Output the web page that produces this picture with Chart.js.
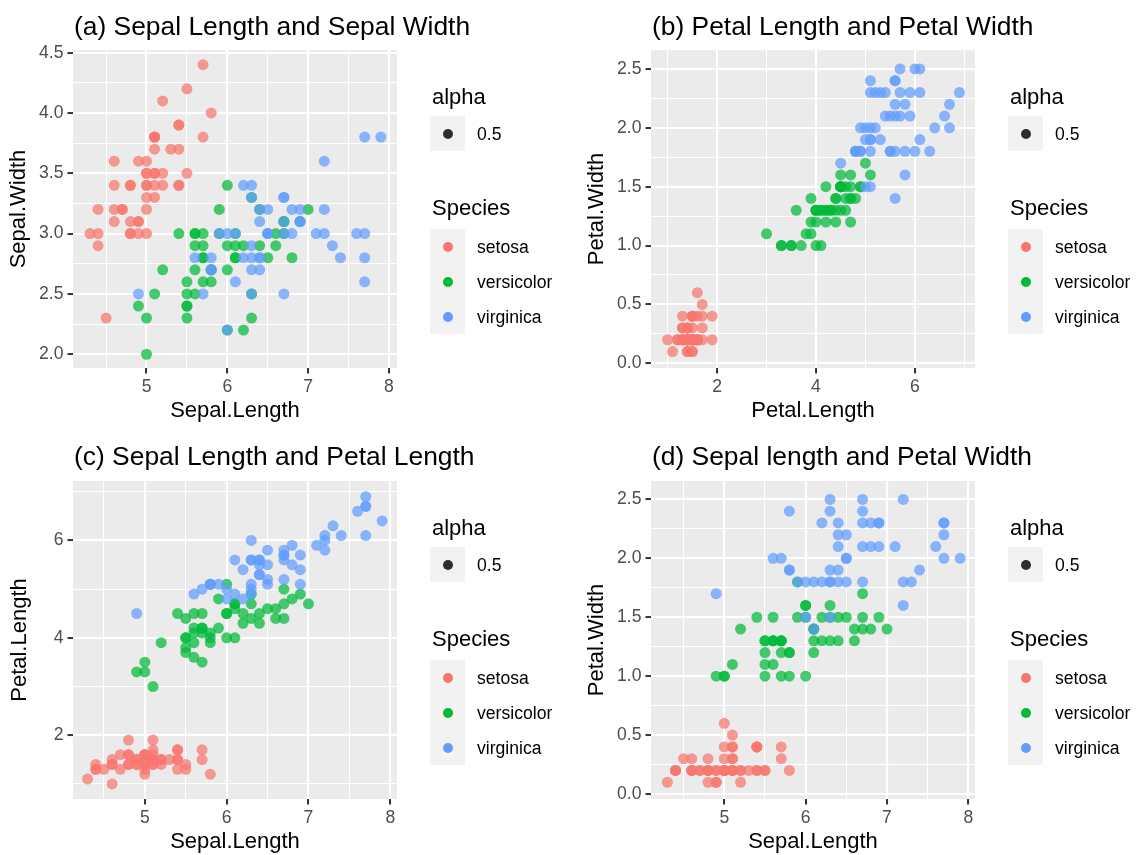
<!DOCTYPE html>
<html>
<head>
<meta charset="utf-8">
<title>Iris scatter plots</title>
<script src="https://cdn.jsdelivr.net/npm/chart.js@4.4.1/dist/chart.umd.min.js"></script>
<style>
    body { margin: 0; background: #ffffff; font-family: "Liberation Sans", Arial, sans-serif; }
    #wrap { position: relative; width: 1136px; height: 855px; overflow: hidden; }
    #wrap canvas { position: absolute; }
    .legend { position: absolute; width: 130px; height: 300px; }
    .legend div { position: absolute; white-space: nowrap; }
    .lg-title { font-size: 22px; line-height: 26px; color: #000; }
    .lg-label { font-size: 17.6px; line-height: 20px; color: #000; }
    .lg-box { background: #F2F2F2; width: 35px; }
    .lg-dot { width: 10px; height: 10px; border-radius: 50%; }
</style>
</head>
<body>
<div id="wrap"></div>
<script>
// iris data, one array per species and measurement
const setosaSepalLength = [5.1,4.9,4.7,4.6,5.0,5.4,4.6,5.0,4.4,4.9,5.4,4.8,4.8,4.3,5.8,5.7,5.4,5.1,5.7,5.1,5.4,5.1,4.6,5.1,4.8,5.0,5.0,5.2,5.2,4.7,4.8,5.4,5.2,5.5,4.9,5.0,5.5,4.9,4.4,5.1,5.0,4.5,4.4,5.0,5.1,4.8,5.1,4.6,5.3,5.0];
const setosaSepalWidth = [3.5,3.0,3.2,3.1,3.6,3.9,3.4,3.4,2.9,3.1,3.7,3.4,3.0,3.0,4.0,4.4,3.9,3.5,3.8,3.8,3.4,3.7,3.6,3.3,3.4,3.0,3.4,3.5,3.4,3.2,3.1,3.4,4.1,4.2,3.1,3.2,3.5,3.6,3.0,3.4,3.5,2.3,3.2,3.5,3.8,3.0,3.8,3.2,3.7,3.3];
const setosaPetalLength = [1.4,1.4,1.3,1.5,1.4,1.7,1.4,1.5,1.4,1.5,1.5,1.6,1.4,1.1,1.2,1.5,1.3,1.4,1.7,1.5,1.7,1.5,1.0,1.7,1.9,1.6,1.6,1.5,1.4,1.6,1.6,1.5,1.5,1.4,1.5,1.2,1.3,1.4,1.3,1.5,1.3,1.3,1.3,1.6,1.9,1.4,1.6,1.4,1.5,1.4];
const setosaPetalWidth = [0.2,0.2,0.2,0.2,0.2,0.4,0.3,0.2,0.2,0.1,0.2,0.2,0.1,0.1,0.2,0.4,0.4,0.3,0.3,0.3,0.2,0.4,0.2,0.5,0.2,0.2,0.4,0.2,0.2,0.2,0.2,0.4,0.1,0.2,0.2,0.2,0.2,0.1,0.2,0.2,0.3,0.3,0.2,0.6,0.4,0.3,0.2,0.2,0.2,0.2];

const versicolorSepalLength = [7.0,6.4,6.9,5.5,6.5,5.7,6.3,4.9,6.6,5.2,5.0,5.9,6.0,6.1,5.6,6.7,5.6,5.8,6.2,5.6,5.9,6.1,6.3,6.1,6.4,6.6,6.8,6.7,6.0,5.7,5.5,5.5,5.8,6.0,5.4,6.0,6.7,6.3,5.6,5.5,5.5,6.1,5.8,5.0,5.6,5.7,5.7,6.2,5.1,5.7];
const versicolorSepalWidth = [3.2,3.2,3.1,2.3,2.8,2.8,3.3,2.4,2.9,2.7,2.0,3.0,2.2,2.9,2.9,3.1,3.0,2.7,2.2,2.5,3.2,2.8,2.5,2.8,2.9,3.0,2.8,3.0,2.9,2.6,2.4,2.4,2.7,2.7,3.0,3.4,3.1,2.3,3.0,2.5,2.6,3.0,2.6,2.3,2.7,3.0,2.9,2.9,2.5,2.8];
const versicolorPetalLength = [4.7,4.5,4.9,4.0,4.6,4.5,4.7,3.3,4.6,3.9,3.5,4.2,4.0,4.7,3.6,4.4,4.5,4.1,4.5,3.9,4.8,4.0,4.9,4.7,4.3,4.4,4.8,5.0,4.5,3.5,3.8,3.7,3.9,5.1,4.5,4.5,4.7,4.4,4.1,4.0,4.4,4.6,4.0,3.3,4.2,4.2,4.2,4.3,3.0,4.1];
const versicolorPetalWidth = [1.4,1.5,1.5,1.3,1.5,1.3,1.6,1.0,1.3,1.4,1.0,1.5,1.0,1.4,1.3,1.4,1.5,1.0,1.5,1.1,1.8,1.3,1.5,1.2,1.3,1.4,1.4,1.7,1.5,1.0,1.1,1.0,1.2,1.6,1.5,1.6,1.5,1.3,1.3,1.3,1.2,1.4,1.2,1.0,1.3,1.2,1.3,1.3,1.1,1.3];

const virginicaSepalLength = [6.3,5.8,7.1,6.3,6.5,7.6,4.9,7.3,6.7,7.2,6.5,6.4,6.8,5.7,5.8,6.4,6.5,7.7,7.7,6.0,6.9,5.6,7.7,6.3,6.7,7.2,6.2,6.1,6.4,7.2,7.4,7.9,6.4,6.3,6.1,7.7,6.3,6.4,6.0,6.9,6.7,6.9,5.8,6.8,6.7,6.7,6.3,6.5,6.2,5.9];
const virginicaSepalWidth = [3.3,2.7,3.0,2.9,3.0,3.0,2.5,2.9,2.5,3.6,3.2,2.7,3.0,2.5,2.8,3.2,3.0,3.8,2.6,2.2,3.2,2.8,2.8,2.7,3.3,3.2,2.8,3.0,2.8,3.0,2.8,3.8,2.8,2.8,2.6,3.0,3.4,3.1,3.0,3.1,3.1,3.1,2.7,3.2,3.3,3.0,2.5,3.0,3.4,3.0];
const virginicaPetalLength = [6.0,5.1,5.9,5.6,5.8,6.6,4.5,6.3,5.8,6.1,5.1,5.3,5.5,5.0,5.1,5.3,5.5,6.7,6.9,5.0,5.7,4.9,6.7,4.9,5.7,6.0,4.8,4.9,5.6,5.8,6.1,6.4,5.6,5.1,5.6,6.1,5.6,5.5,4.8,5.4,5.6,5.1,5.1,5.9,5.7,5.2,5.0,5.2,5.4,5.1];
const virginicaPetalWidth = [2.5,1.9,2.1,1.8,2.2,2.1,1.7,1.8,1.8,2.5,2.0,1.9,2.1,2.0,2.4,2.3,1.8,2.2,2.3,1.5,2.3,2.0,2.0,1.8,2.1,1.8,1.8,1.8,2.1,1.6,1.9,2.0,2.2,1.5,1.4,2.3,2.4,1.8,1.8,2.1,2.4,2.3,1.9,2.3,2.5,2.3,1.9,2.0,2.3,1.8];

const species = ['setosa', 'versicolor', 'virginica'];
const speciesColors = ['#F8766D', '#00BA38', '#619CFF'];
const alphaLabel = '0.5';

// tick labels for each measurement
const sepalLengthTicks = [5, 6, 7, 8];
const sepalWidthTicks = [2.0, 2.5, 3.0, 3.5, 4.0, 4.5];
const petalLengthTicks = [2, 4, 6];
const petalWidthTicks = [0.0, 0.5, 1.0, 1.5, 2.0, 2.5];

const columns = {
    'Sepal.Length': [setosaSepalLength, versicolorSepalLength, virginicaSepalLength],
    'Sepal.Width': [setosaSepalWidth, versicolorSepalWidth, virginicaSepalWidth],
    'Petal.Length': [setosaPetalLength, versicolorPetalLength, virginicaPetalLength],
    'Petal.Width': [setosaPetalWidth, versicolorPetalWidth, virginicaPetalWidth]
};

const FONT = '"Liberation Sans", Arial, sans-serif';

// the four panels
const panels = [
    { title: '(a) Sepal Length and Sepal Width', x: 'Sepal.Length', y: 'Sepal.Width',
      xTicks: sepalLengthTicks, yTicks: sepalWidthTicks, xDec: 0, yDec: 1,
      xRange: [4.09, 8.10], yRange: [1.886, 4.522],
      left: 0, top: 0, plotLeft: 73, plotRight: 397, yAxisWidth: 67, titleY: 35 },
    { title: '(b) Petal Length and Petal Width', x: 'Petal.Length', y: 'Petal.Width',
      xTicks: petalLengthTicks, yTicks: petalWidthTicks, xDec: 0, yDec: 1,
      xRange: [0.664, 7.215], yRange: [-0.04, 2.661],
      left: 568, top: 0, plotLeft: 83, plotRight: 407, yAxisWidth: 67, titleY: 35 },
    { title: '(c) Sepal Length and Petal Length', x: 'Sepal.Length', y: 'Petal.Length',
      xTicks: sepalLengthTicks, yTicks: petalLengthTicks, xDec: 0, yDec: 0,
      xRange: [4.122, 8.082], yRange: [0.691, 7.221],
      left: 0, top: 431, plotLeft: 73, plotRight: 397, yAxisWidth: 66, titleY: 34 },
    { title: '(d) Sepal length and Petal Width', x: 'Sepal.Length', y: 'Petal.Width',
      xTicks: sepalLengthTicks, yTicks: petalWidthTicks, xDec: 0, yDec: 1,
      xRange: [4.099, 8.082], yRange: [-0.042, 2.656],
      left: 568, top: 431, plotLeft: 83, plotRight: 407, yAxisWidth: 67, titleY: 34 }
];

const CANVAS_W = 568;
const CANVAS_H = 424;
const PLOT_TOP = 50;
const X_AXIS_H = 56;

// grey panel background
const panelBackground = {
    id: 'panelBackground',
    beforeDraw(chart) {
        const a = chart.chartArea;
        const ctx = chart.ctx;
        ctx.save();
        ctx.fillStyle = '#EBEBEB';
        ctx.fillRect(a.left, a.top, a.right - a.left, a.bottom - a.top);
        ctx.restore();
    }
};

// left aligned plot title
const panelTitle = {
    id: 'panelTitle',
    afterDraw(chart, args, opts) {
        const ctx = chart.ctx;
        ctx.save();
        ctx.font = '26.4px ' + FONT;
        ctx.fillStyle = '#000000';
        ctx.textBaseline = 'alphabetic';
        ctx.textAlign = 'left';
        ctx.fillText(opts.text, opts.x, opts.y);
        ctx.restore();
    }
};

function isIn(list, v) {
    return list.some(m => Math.abs(m - v) < 1e-9);
}

function buildAxis(range, major, decimals, title, isY, fitSize) {
    const step = major[1] - major[0];
    const minor = [major[0] - step / 2].concat(major.map(v => v + step / 2));
    const all = major.concat(minor)
        .filter(v => v >= range[0] && v <= range[1])
        .sort((a, b) => a - b);

    return {
        type: 'linear',
        position: isY ? 'left' : 'bottom',
        min: range[0],
        max: range[1],
        afterBuildTicks: (scale) => {
            scale.ticks = all.map(v => ({ value: v }));
        },
        afterFit: (scale) => {
            if (isY) scale.width = fitSize; else scale.height = fitSize;
        },
        ticks: {
            autoSkip: false,
            maxRotation: 0,
            minRotation: 0,
            padding: isY ? 4 : 3,
            color: '#4D4D4D',
            font: { size: 17.6, family: FONT },
            callback: (value) => isIn(major, value) ? Number(value).toFixed(decimals) : ''
        },
        grid: {
            color: '#FFFFFF',
            lineWidth: (c) => (c.tick && isIn(major, c.tick.value)) ? 2.1 : 1.05,
            tickColor: (c) => (c.tick && isIn(major, c.tick.value)) ? '#333333' : 'rgba(0,0,0,0)',
            tickLength: 5.5,
            tickWidth: 2
        },
        border: { display: false },
        title: {
            display: true,
            text: title,
            color: '#000000',
            font: { size: 22, family: FONT, lineHeight: 1.2 },
            padding: 0
        }
    };
}

function hexToRgba(hex, a) {
    const n = parseInt(hex.slice(1), 16);
    return `rgba(${(n >> 16) & 255}, ${(n >> 8) & 255}, ${n & 255}, ${a})`;
}

function makeLegend(wrap, left, top) {
    const box = document.createElement('div');
    box.className = 'legend';
    box.style.left = left + 'px';
    box.style.top = top + 'px';

    const add = (cls, css, text) => {
        const d = document.createElement('div');
        d.className = cls;
        Object.assign(d.style, css);
        if (text) d.textContent = text;
        box.appendChild(d);
        return d;
    };

    add('lg-title', { left: '2px', top: '34px' }, 'alpha');
    add('lg-box', { left: '0px', top: '66px', height: '35px' });
    add('lg-dot', { left: '12.5px', top: '79px', background: '#2E2E2E' });
    add('lg-label', { left: '47px', top: '74px' }, alphaLabel);

    add('lg-title', { left: '2px', top: '145px' }, 'Species');
    add('lg-box', { left: '0px', top: '179px', height: '105px' });
    species.forEach((s, i) => {
        const cy = 196.5 + i * 35;
        add('lg-dot', { left: '12.5px', top: (cy - 5) + 'px', background: speciesColors[i] });
        add('lg-label', { left: '47px', top: (cy - 10) + 'px' }, s);
    });

    wrap.appendChild(box);
}

document.addEventListener('DOMContentLoaded', () => {
    const wrap = document.getElementById('wrap');

    panels.forEach((p) => {
        const canvas = document.createElement('canvas');
        canvas.width = CANVAS_W;
        canvas.height = CANVAS_H;
        canvas.style.left = p.left + 'px';
        canvas.style.top = p.top + 'px';
        wrap.appendChild(canvas);

        const xs = columns[p.x];
        const ys = columns[p.y];
        // later species drawn on top, like ggplot
        const datasets = species.map((s, i) => ({
            label: s,
            data: xs[i].map((v, k) => ({ x: v, y: ys[i][k] })),
            backgroundColor: hexToRgba(speciesColors[i], 0.72),
            borderWidth: 0,
            pointRadius: 5.5,
            pointHoverRadius: 5.5,
            order: species.length - i
        }));

        new Chart(canvas.getContext('2d'), {
            type: 'scatter',
            data: { datasets },
            plugins: [panelBackground, panelTitle],
            options: {
                responsive: false,
                animation: false,
                devicePixelRatio: 1,
                layout: {
                    padding: {
                        left: p.plotLeft - p.yAxisWidth,
                        right: CANVAS_W - p.plotRight,
                        top: PLOT_TOP,
                        bottom: CANVAS_H - PLOT_TOP - 318 - X_AXIS_H
                    }
                },
                scales: {
                    x: buildAxis(p.xRange, p.xTicks, p.xDec, p.x, false, X_AXIS_H),
                    y: buildAxis(p.yRange, p.yTicks, p.yDec, p.y, true, p.yAxisWidth)
                },
                plugins: {
                    legend: { display: false },
                    tooltip: { enabled: false },
                    panelTitle: { text: p.title, x: p.plotLeft + 1, y: p.titleY }
                }
            }
        });

        makeLegend(wrap, p.left + p.plotRight + 33, p.top + PLOT_TOP);
    });
});
</script>
</body>
</html>
